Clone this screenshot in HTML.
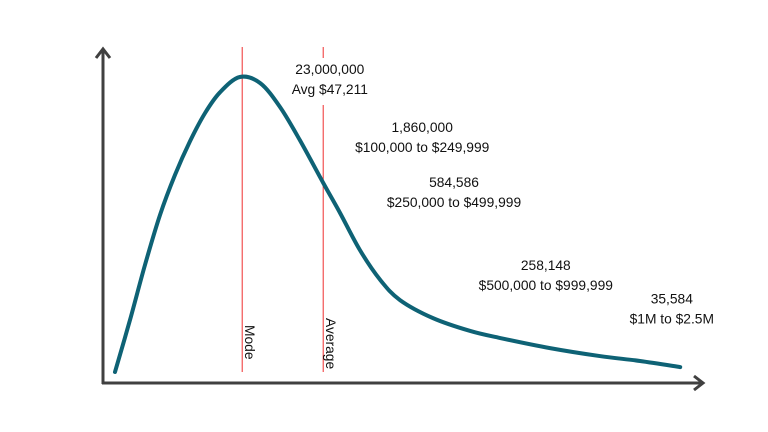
<!DOCTYPE html>
<html><head><meta charset="utf-8"><style>
body{margin:0;background:#fff;width:768px;height:432px;overflow:hidden}
svg{display:block}
text{font-family:"Liberation Sans",sans-serif;font-size:13.8px;fill:#111}
</style></head><body>
<svg id="chart" width="768" height="432" viewBox="0 0 768 432">
<g id="axes">
<line x1="103" y1="384" x2="103" y2="49" stroke="#404040" stroke-width="3"/>
<polyline points="96,58 103,49 110,58" fill="none" stroke="#404040" stroke-width="3"/>
<line x1="102" y1="383" x2="703" y2="383" stroke="#404040" stroke-width="3"/>
<polyline points="694,376 703,383 694,390" fill="none" stroke="#404040" stroke-width="3"/>
</g>
<g id="marks"></g>
</svg>
<script>
const curveX=[2,4.5,7,9.5,12,14.5,17,19.5,22.8,26.2,29.5,32.8,36.7,39.5,42.8,46.2,49.5,55,61.2,66.2,74.5,82.8,89.5,96.2];
const curveY=[3.6,20.6,38.6,54.9,68,79,88.2,95,100,98,90.2,79.4,65.4,55.6,43.5,33.7,27.1,21.2,17,14.7,11.4,8.8,7.2,5.2];
const refNames=["Mode","Average"];
const refX=[23.2,36.7];
const annCounts=["23,000,000","1,860,000","584,586","258,148","35,584"];
const annRanges=["Avg $47,211","$100,000 to $249,999","$250,000 to $499,999","$500,000 to $999,999","$1M to $2.5M"];
const annX=[37.8,53.2,58.5,73.8,94.8];
const annY=[101,82,64,37,26];
const xs=v=>103+v*6, ys=v=>383-v*3.06;
const NS="http://www.w3.org/2000/svg", g=document.getElementById('marks');
function mk(t,a){const e=document.createElementNS(NS,t);for(const k in a)e.setAttribute(k,a[k]);g.appendChild(e);return e;}
refX.forEach((v,i)=>{
 const x=xs(v);
 if(i===1){
  const a=mk('line',{x1:x,y1:47,x2:x,y2:58,stroke:'#f03030','stroke-width':1});
  
  
  const b=mk('line',{x1:x,y1:105,x2:x,y2:372,stroke:'#f03030','stroke-width':1});
  
  
 } else {
  const a=mk('line',{x1:x,y1:47,x2:x,y2:372,stroke:'#f03030','stroke-width':1});
  
  
 }
 const t=mk('text',{transform:`translate(${x+3},${i?318:325}) rotate(90)`,'font-size':'16'});
 t.textContent=refNames[i];
 
 
});
const P=curveX.map((v,i)=>[xs(v),ys(curveY[i])]);
let d=`M${P[0][0]},${P[0][1]}`;
for(let i=0;i<P.length-1;i++){
 const p0=P[i-1]||P[i],p1=P[i],p2=P[i+1],p3=P[i+2]||p2;
 d+=` C${p1[0]+(p2[0]-p0[0])/6},${p1[1]+(p2[1]-p0[1])/6} ${p2[0]-(p3[0]-p1[0])/6},${p2[1]-(p3[1]-p1[1])/6} ${p2[0]},${p2[1]}`;
}
const c=mk('path',{d,fill:'none',stroke:'#0e6275','stroke-width':4,'stroke-linecap':'round','stroke-linejoin':'round'});


annCounts.forEach((s,i)=>{
 const x=xs(annX[i]),y=ys(annY[i]);
 const t1=mk('text',{x,y,'text-anchor':'middle'});t1.textContent=s;
 
 
 const t2=mk('text',{x,y:y+20,'text-anchor':'middle'});t2.textContent=annRanges[i];
 
 
});
</script>
</body></html>
